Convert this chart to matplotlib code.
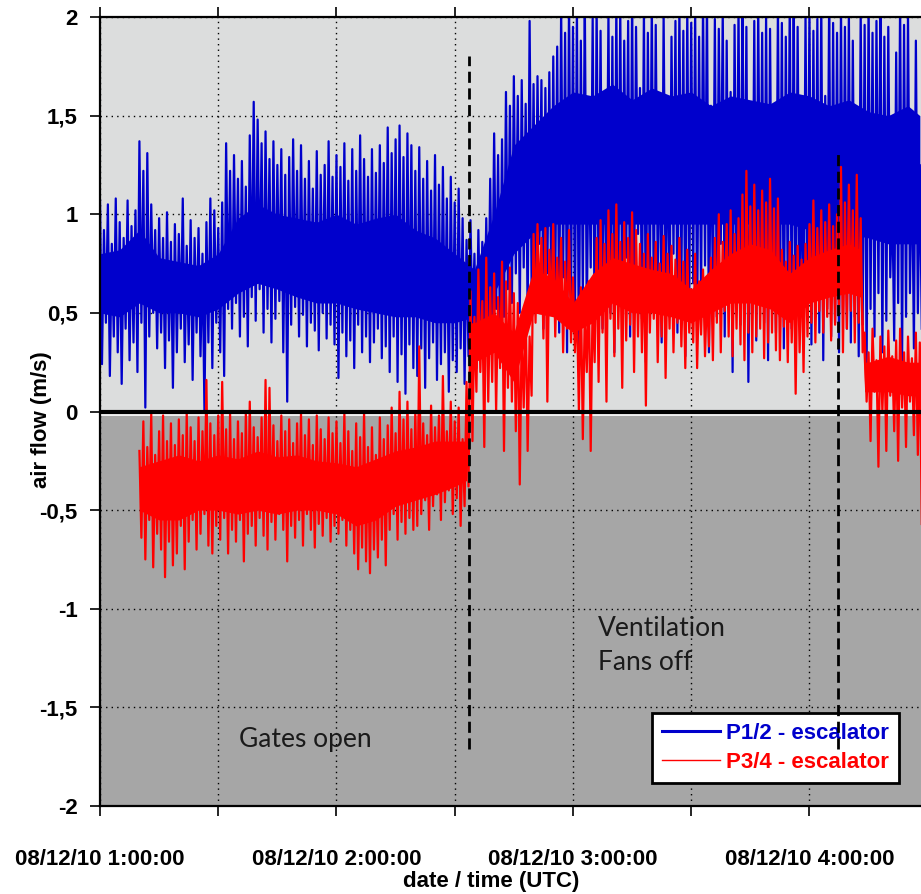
import numpy as np
import matplotlib.pyplot as plt
from matplotlib.ticker import FuncFormatter, MultipleLocator

# minutes after 08/12/10 1:00:00, one local max / min per minute
blue_start = 0
blue_hi = [
    1.07, 0.92, 1.05, 0.85, 1.08, 0.96, 0.88, 1.07, 0.94, 1.02,
    1.37, 1.22, 1.31, 1.05, 0.92, 0.98, 0.88, 1.01, 0.86, 0.95,
    0.90, 1.08, 0.84, 0.97, 0.88, 0.93, 0.80, 0.96, 1.08, 1.02,
    0.93, 1.06, 1.36, 1.22, 1.30, 1.18, 1.27, 1.14, 1.40, 1.57,
    1.48, 1.36, 1.42, 1.28, 1.37, 1.25, 1.33, 1.20, 1.29, 1.38,
    1.22, 1.35, 1.18, 1.27, 1.13, 1.32, 1.20, 1.25, 1.37, 1.19,
    1.30, 1.24, 1.36, 1.17, 1.33, 1.22, 1.40, 1.28, 1.19, 1.33,
    1.21, 1.35, 1.26, 1.44, 1.31, 1.38, 1.45, 1.29, 1.41, 1.35,
    1.22, 1.34, 1.18, 1.27, 1.12, 1.30, 1.15, 1.24, 1.08, 1.19,
    1.06, 1.13, 0.98, 0.87, 0.97, 0.80, 0.92, 0.86, 0.98, 1.18,
    1.41, 1.30, 1.38, 1.62, 1.55, 1.70, 1.60, 1.68, 1.56, 1.98,
    1.66, 1.70, 1.68, 1.64, 1.72, 1.80, 1.85, 2.05, 1.92, 2.10,
    1.95, 2.05, 1.88, 2.10, 1.41, 2.00, 2.06, 1.93, 1.55, 2.02,
    1.90, 2.08, 2.05, 1.88, 1.98, 2.10, 1.95, 1.64, 2.04, 1.92,
    2.08, 1.96, 1.50, 2.02, 1.45, 1.90, 1.98, 2.06, 1.93, 2.05,
    1.97, 2.03, 1.90, 2.08, 2.10, 1.55, 1.99, 1.94, 2.04, 1.88,
    1.62, 1.96, 2.05, 2.10, 1.95, 1.17, 1.98, 2.05, 1.92, 2.01,
    1.94, 1.29, 2.06, 1.97, 1.90, 2.08, 2.10, 1.95, 1.31, 2.02,
    2.05, 1.93, 1.99, 2.08, 1.60, 2.10, 1.97, 1.92, 2.06, 1.95,
    2.03, 1.88, 1.45, 2.04, 1.96, 2.09, 1.92, 1.98, 2.10, 1.90,
    1.95, 1.10, 1.82, 2.08, 1.96, 2.02, 1.33, 1.88, 1.25,
]
blue_lo = [
    0.24, 0.45, 0.18, 0.38, 0.30, 0.14, 0.42, 0.26, 0.35, 0.20,
    0.45, 0.02, 0.38, 0.50, 0.32, 0.40, 0.22, 0.36, 0.12, 0.30,
    0.42, 0.25, 0.34, 0.16, 0.40, 0.28, 0.00, 0.35, 0.22, 0.45,
    0.30, 0.18, 0.52, 0.42, 0.55, 0.38, 0.48, 0.33, 0.58, 0.46,
    0.62, 0.40, 0.52, 0.35, 0.47, 0.56, 0.30, 0.05, 0.44, 0.53,
    0.38, 0.49, 0.33, 0.45, 0.41, 0.31, 0.50, 0.37, 0.44, 0.34,
    0.17, 0.40, 0.28, 0.36, 0.22, 0.44, 0.30, 0.38, 0.25, 0.35,
    0.42, 0.27, 0.33, 0.20, 0.38, 0.15, 0.29, 0.09, 0.34, 0.22,
    0.18, 0.32, 0.12, 0.27, 0.35, 0.16, 0.24, 0.30, 0.10, 0.26,
    0.20, 0.32, 0.14, 0.28, 0.40, 0.22, 0.36, 0.30, 0.38, 0.45,
    0.52, 0.34, 0.48, 0.62, 0.55, 0.70, 0.50, 0.73, 0.48, 0.65,
    0.58, 0.85, 0.42, 0.70, 0.55, 0.62, 0.40, 0.68, 0.30, 0.55,
    0.45, 0.22, 0.60, 0.48, 0.73, 0.35, 0.58, 0.42, 0.66, 0.50,
    0.30, 0.62, 0.45, 0.78, 0.38, 0.55, 0.90, 0.47, 0.25, 0.60,
    0.52, 0.70, 0.35, 0.58, 0.48, 0.80, 0.40, 0.62, 0.28, 0.55,
    0.65, 0.42, 0.56, 0.74, 0.30, 0.60, 0.48, 0.85, 0.38, 0.52,
    0.20, 0.58, 0.44, 0.68, 0.15, 0.50, 0.36, 0.62, 0.45, 0.26,
    0.55, 0.40, 0.48, 0.32, 0.58, 0.42, 0.28, 0.50, 0.36, 0.46,
    0.34, 0.48, 0.40, 0.26, 0.52, 0.38, 0.45, 0.30, 0.50, 0.42,
    0.35, 0.48, 0.28, 0.44, 0.20, 0.52, 0.38, 0.60, 0.30, 0.46,
    0.68, 0.36, 0.55, 0.25, 0.48, 0.60, 0.32, 0.50, 0.42,
]

red_start = 10
red_hi = [
    -0.20, -0.05, -0.18, -0.01, -0.22, -0.10, -0.02, -0.15, -0.06, -0.17,
    -0.04, -0.12, 0.00, -0.08, -0.15, -0.03, -0.10, 0.16, -0.06, -0.12,
    -0.02, 0.15, -0.09, -0.01, -0.14, -0.05, -0.11, 0.00, 0.05, -0.08,
    -0.13, -0.03, 0.16, 0.12, -0.07, -0.15, -0.02, -0.10, -0.04, -0.16,
    -0.06, -0.01, -0.12, -0.04, -0.17, -0.02, -0.09, -0.14, -0.03, -0.11,
    -0.05, -0.16, -0.01, -0.10, -0.20, -0.06, -0.13, 0.00, -0.18, -0.08,
    -0.22, -0.03, -0.14, -0.07, 0.02, -0.11, 0.10, -0.04, 0.05, -0.09,
    0.00, 0.33, -0.06, -0.12, 0.03, -0.08, -0.02, 0.18, -0.10, 0.05,
    -0.05, 0.02, -0.14, 0.15, 0.61, 0.48, 0.72, 0.56, 0.78, 0.63,
    0.70, 0.58, 0.76, 0.66, 0.73, 0.60, 0.55, 0.42, 0.52, 0.38,
    0.90, 0.95, 0.88, 0.93, 0.82, 0.95, 0.78, 0.88, 0.76, 0.92,
    0.68, 0.55, 0.63, 0.51, 0.66, 0.58, 0.88, 0.97, 0.85, 1.02,
    0.90, 1.05, 0.86, 0.96, 0.88, 1.01, 0.92, 0.85, 0.80, 0.90,
    0.78, 0.86, 0.75, 0.89, 0.80, 0.84, 0.77, 0.88, 0.76, 0.82,
    0.62, 0.80, 0.66, 0.72, 0.60, 0.78, 0.88, 1.00, 0.86, 0.95,
    1.02, 0.90, 0.98, 1.10, 1.22, 1.04, 1.15, 1.02, 1.12, 1.06,
    1.18, 1.03, 1.08, 0.82, 0.76, 0.86, 0.79, 0.84, 0.77, 0.85,
    0.95, 1.07, 0.93, 1.02, 0.96, 1.05, 0.94, 1.00, 1.24, 1.06,
    1.15, 1.02, 1.20, 0.98, 0.40, 0.30, 0.42, 0.26, 0.38, 0.33,
    0.41, 0.28, 0.36, 0.42, 0.30, 0.38, 0.27, 0.40, 0.35,
]
red_lo = [
    -0.64, -0.75, -0.55, -0.79, -0.62, -0.70, -0.84, -0.66, -0.78, -0.72,
    -0.58, -0.80, -0.66, -0.55, -0.70, -0.62, -0.52, -0.68, -0.72, -0.58,
    -0.65, -0.54, -0.72, -0.60, -0.66, -0.55, -0.76, -0.62, -0.58, -0.68,
    -0.54, -0.63, -0.70, -0.56, -0.65, -0.52, -0.60, -0.76, -0.58, -0.64,
    -0.55, -0.68, -0.52, -0.60, -0.69, -0.57, -0.63, -0.54, -0.66, -0.58,
    -0.62, -0.55, -0.68, -0.60, -0.72, -0.80, -0.69, -0.76, -0.82, -0.70,
    -0.74, -0.65, -0.78, -0.60, -0.52, -0.65, -0.56, -0.62, -0.54, -0.60,
    -0.58, -0.52, -0.45, -0.60, -0.48, -0.42, -0.55, -0.46, -0.40, -0.52,
    -0.44, -0.58, -0.48, -0.38, -0.15, 0.10, 0.20, -0.18, 0.05, 0.15,
    0.00, 0.22, -0.20, 0.12, 0.05, -0.10, -0.37, 0.02, -0.20, 0.08,
    0.45, 0.54, 0.37, 0.05, 0.50, 0.38, 0.47, 0.30, 0.42, 0.35,
    0.30, 0.00, -0.14, 0.20, -0.20, 0.25, 0.15, 0.40, 0.05, 0.47,
    0.28, 0.42, 0.12, 0.36, 0.44, 0.20, 0.38, 0.30, 0.03, 0.40,
    0.47, 0.25, 0.38, 0.17, 0.42, 0.30, 0.45, 0.33, 0.22, 0.40,
    0.35, 0.22, 0.39, 0.28, 0.33, 0.26, 0.45, 0.30, 0.51, 0.38,
    0.28, 0.42, 0.34, 0.26, 0.40, 0.30, 0.38, 0.42, 0.27, 0.35,
    0.40, 0.31, 0.26, 0.43, 0.25, 0.35, 0.09, 0.30, 0.20, 0.38,
    0.45, 0.35, 0.51, 0.40, 0.48, 0.36, 0.44, 0.50, 0.30, 0.42,
    0.51, 0.35, 0.45, 0.30, 0.05, -0.15, 0.10, -0.28, 0.00, -0.20,
    0.08, -0.10, -0.25, 0.02, -0.18, 0.05, -0.12, -0.22, -0.57,
]

# solid (over-plotted) core of each trace, read every ~5 minutes
blue_core_t = [0, 5, 10, 15, 20, 25, 30, 35, 40, 45, 50, 55, 60, 65, 70,
               75, 80, 85, 90, 95, 100, 105, 110, 115, 120, 125, 130, 135,
               140, 145, 150, 155, 160, 165, 170, 175, 180, 185, 190, 195,
               200, 205, 208]
blue_core_top = [0.80, 0.82, 0.92, 0.78, 0.76, 0.74, 0.80, 0.98, 1.05, 1.00,
                 0.98, 0.96, 1.00, 0.95, 0.98, 1.00, 0.92, 0.88, 0.80, 0.72,
                 1.00, 1.35, 1.45, 1.55, 1.62, 1.60, 1.66, 1.58, 1.64, 1.60,
                 1.62, 1.55, 1.60, 1.58, 1.56, 1.62, 1.60, 1.55, 1.58, 1.52,
                 1.50, 1.55, 1.50]
blue_core_bot = [0.50, 0.48, 0.55, 0.50, 0.50, 0.48, 0.52, 0.60, 0.65, 0.62,
                 0.58, 0.55, 0.55, 0.52, 0.50, 0.48, 0.48, 0.45, 0.45, 0.48,
                 0.60, 0.80, 0.90, 0.95, 0.95, 0.95, 0.95, 0.95, 0.95, 0.95,
                 0.95, 0.95, 0.95, 0.95, 0.95, 0.95, 0.92, 0.90, 0.90, 0.88,
                 0.85, 0.85, 0.85]
red_core_t = [10, 15, 20, 25, 30, 35, 40, 45, 50, 55, 60, 65, 70, 75, 80,
              85, 90, 93, 94, 95, 100, 105, 110, 115, 120, 125, 130, 135,
              140, 145, 150, 155, 160, 165, 170, 175, 180, 185, 190, 193,
              194, 195, 200, 205, 208]
red_core_top = [-0.28, -0.25, -0.22, -0.25, -0.22, -0.24, -0.20, -0.23, -0.22, -0.25,
                -0.26, -0.28, -0.24, -0.20, -0.18, -0.15, -0.15, -0.15, 0.45, 0.45,
                0.50, 0.40, 0.72, 0.68, 0.55, 0.70, 0.78, 0.75, 0.72, 0.70,
                0.62, 0.72, 0.80, 0.85, 0.82, 0.70, 0.78, 0.82, 0.85, 0.82,
                0.25, 0.25, 0.28, 0.25, 0.25]
red_core_bot = [-0.50, -0.55, -0.55, -0.50, -0.50, -0.52, -0.50, -0.52, -0.50, -0.50,
                -0.52, -0.58, -0.55, -0.48, -0.45, -0.42, -0.38, -0.35, 0.25, 0.25,
                0.30, 0.15, 0.50, 0.48, 0.40, 0.45, 0.55, 0.50, 0.50, 0.48,
                0.45, 0.50, 0.55, 0.55, 0.52, 0.45, 0.55, 0.58, 0.60, 0.58,
                0.10, 0.10, 0.10, 0.08, 0.08]

# dashed event markers (gates open / fans off), minutes after 1:00
event_times = [93.5, 187.3]
event_tops = [1.80, 1.33]
event_bottom = -1.71

date_prefix = "08/12/10"


def zigzag(start, hi, lo):
    t = start + np.arange(len(hi))
    x = np.column_stack([t, t + 0.5]).ravel()
    y = np.column_stack([hi, lo]).ravel()
    return x, y


bx, by = zigzag(blue_start, blue_hi, blue_lo)
rx, ry = zigzag(red_start, red_hi, red_lo)

fig = plt.figure(figsize=(9.21, 8.94), dpi=100)
ax = fig.add_axes([100 / 921, 88 / 894, 821 / 921, 789 / 894])
ax.set_facecolor('#dcdddd')
ax.axhspan(-2, -0.02, color='#a6a6a6', zorder=0.1, lw=0)
ax.axhline(-0.017, color='white', lw=1.2, zorder=0.2)

ax.set_axisbelow(True)
ax.grid(True, color='black', linestyle=(0, (1, 3)), lw=1)

ax.fill_between(blue_core_t, blue_core_bot, blue_core_top, color='#0000cc',
                lw=0, zorder=2)
ax.plot(bx, by, color='#0000cc', lw=1.6, label='P1/2 - escalator', zorder=2)
ax.fill_between(red_core_t, red_core_bot, red_core_top, color='#ff0000',
                lw=0, zorder=3)
ax.plot(rx, ry, color='#ff0000', lw=1.6, label='P3/4 - escalator', zorder=3)
ax.axhline(0, color='black', lw=3, zorder=4)
ax.vlines(event_times, event_bottom, event_tops, colors='black', lw=2,
          linestyles=(0, (4, 2)), zorder=7)

ax.text(35.3, -1.663, 'Gates open', family='Lato', fontsize=19,
        color='#1a1a1a', va='center', ha='left')
ax.text(126.4, -1.10, 'Ventilation', family='Lato', fontsize=19,
        color='#1a1a1a', va='center', ha='left')
ax.text(126.4, -1.27, 'Fans off', family='Lato', fontsize=19,
        color='#1a1a1a', va='center', ha='left')

ax.set_xlim(0, 208.3)
ax.set_ylim(-2, 2)
ax.xaxis.set_major_locator(MultipleLocator(30))
ax.yaxis.set_major_locator(MultipleLocator(0.5))


def time_label(m, pos):
    m = int(round(m))
    if m % 60:
        return ''
    return f'{date_prefix} {1 + m // 60}:00:00'


ax.xaxis.set_major_formatter(FuncFormatter(time_label))
ax.yaxis.set_major_formatter(FuncFormatter(lambda v, p: f'{v:g}'.replace('.', ',')))

ax.tick_params(axis='both', direction='out', length=7, width=1.2,
               labelsize=16)
ax.tick_params(axis='x', top=True, pad=24)
ax.tick_params(axis='y', pad=9)
for lab in ax.get_xticklabels() + ax.get_yticklabels():
    lab.set_fontfamily('Liberation Sans')
    lab.set_fontweight('bold')

ax.spines['right'].set_visible(False)
for s in ['left', 'top', 'bottom']:
    ax.spines[s].set_linewidth(1.6)

fig.text(491 / 921, 1 - 882 / 894, 'date / time (UTC)', ha='center', va='center',
         fontsize=16, fontweight='bold', family='Liberation Sans')
fig.text(42 / 921, 1 - 420 / 894, 'air flow (m/s)', ha='center', va='center',
         rotation=90, fontsize=16, fontweight='bold', family='Liberation Sans')

leg = ax.legend(loc='upper left', bbox_to_anchor=(652 / 921, 1 - 713 / 894),
                bbox_transform=fig.transFigure, borderaxespad=0,
                prop={'family': 'Liberation Sans', 'weight': 'bold', 'size': 16},
                handlelength=2.6, handletextpad=0.3, labelspacing=0.35,
                borderpad=0.45, fancybox=False, framealpha=1)
leg.get_frame().set_edgecolor('black')
leg.get_frame().set_linewidth(2)
leg.get_lines()[0].set_linewidth(2.2)
leg.get_lines()[1].set_linewidth(1.0)
leg.get_texts()[0].set_color('#0000cc')
leg.get_texts()[1].set_color('#ff0000')

fig.savefig('out.png', dpi=100)
